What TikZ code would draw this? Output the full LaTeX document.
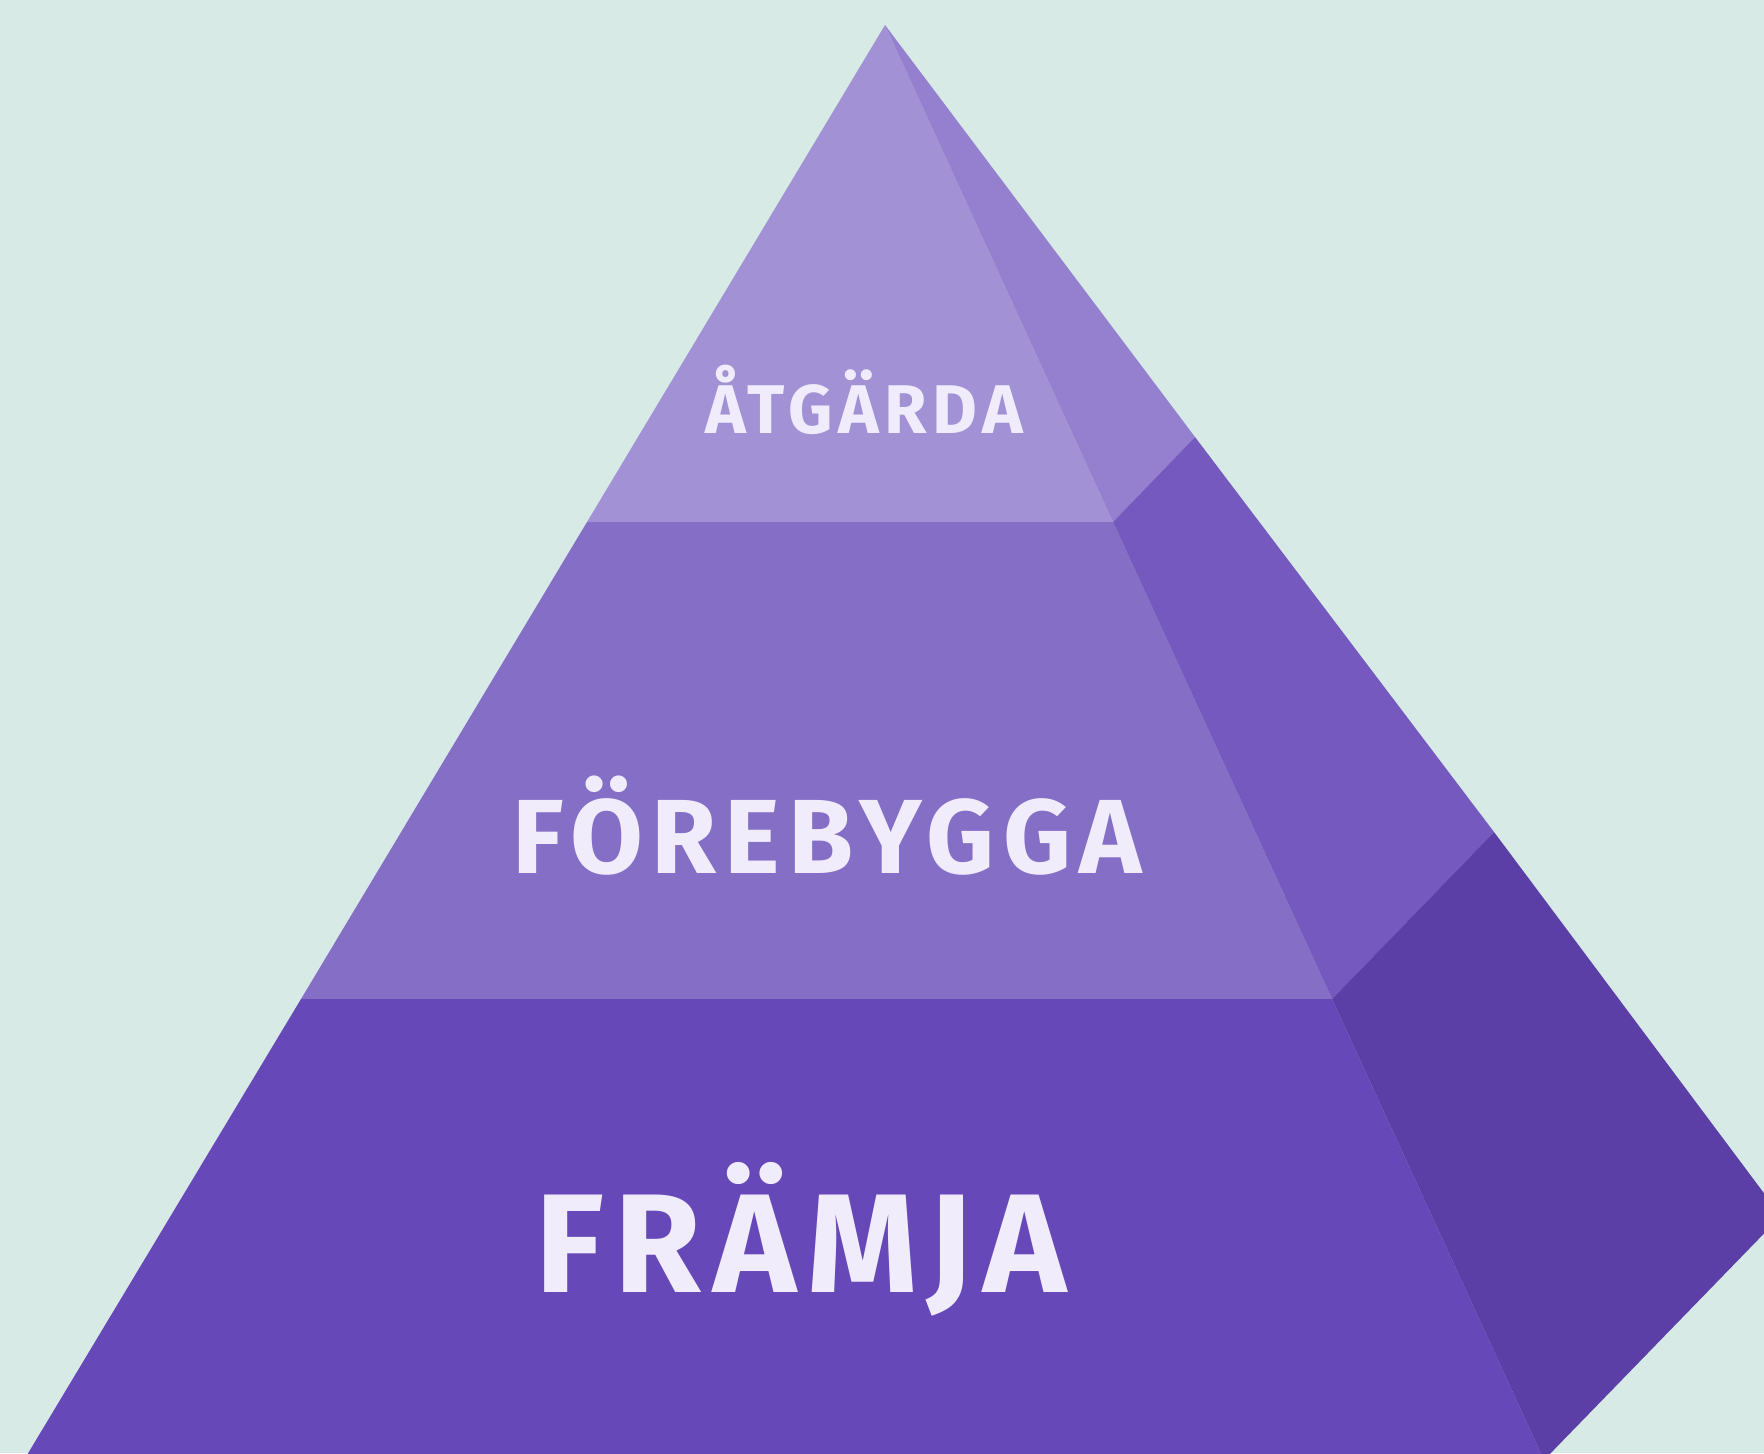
\documentclass[tikz,border=0pt]{standalone}
\usepackage{fontspec}
\setmainfont{Fira Sans}
\newfontfamily\levelfont{Fira Sans}[LetterSpace=8]

\definecolor{bgteal}{HTML}{D7EAE6}
\definecolor{topfront}{HTML}{A292D5}
\definecolor{topside}{HTML}{9480CE}
\definecolor{midfront}{HTML}{856EC6}
\definecolor{midside}{HTML}{7659BF}
\definecolor{lowfront}{HTML}{6648B8}
\definecolor{lowside}{HTML}{5B3EA6}
\definecolor{labeltext}{HTML}{F0ECFC}

\tikzset{
  level/.style={text=labeltext, anchor=base, inner sep=0pt, font=\levelfont\bfseries}
}

\begin{document}
\begin{tikzpicture}[x=0.01cm, y=-0.01cm] % one unit is one pixel, y runs down
		\useasboundingbox (0,0) rectangle (1764,1453);
		\clip (0,0) rectangle (1764,1453);
		\fill[bgteal] (0,0) rectangle (1764,1453);
		
		% Corners of the pyramid
		\coordinate (apex) at (885,25);
		\coordinate (l1) at (587,522);
		\coordinate (r1) at (1113,522);
		\coordinate (s1) at (1195,437);
		\coordinate (l2) at (301,999);
		\coordinate (r2) at (1332,999);
		\coordinate (s2) at (1494,832);
		\coordinate (l3) at (24,1460);
		\coordinate (r3) at (1544,1460);
		\coordinate (s3) at (1781,1216);
		
		% Front faces of the three levels
		\fill[topfront] (apex) -- (l1) -- (r1) -- cycle;
		\fill[midfront] (l1) -- (l2) -- (r2) -- (r1) -- cycle;
		\fill[lowfront] (l2) -- (l3) -- (r3) -- (r2) -- cycle;
		
		% Side faces of the three levels
		\fill[topside] (apex) -- (r1) -- (s1) -- cycle;
		\fill[midside] (r1) -- (r2) -- (s2) -- (s1) -- cycle;
		\fill[lowside] (r2) -- (r3) -- (s3) -- (s2) -- cycle;
		
		% Level labels
		\node[level] (atgarda) at (864,433) {\fontsize{19.6}{22}\selectfont ÅTGÄRDA};
		\node[level] (forebygga) at (827,873) {\fontsize{30}{34}\selectfont FÖREBYGGA};
		\node[level] (framja) at (801,1292) {\fontsize{40}{46}\selectfont FRÄMJA};
	\end{tikzpicture}
\end{document}
